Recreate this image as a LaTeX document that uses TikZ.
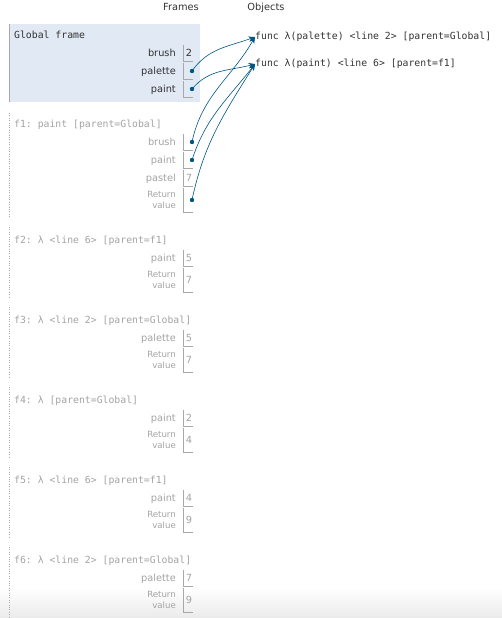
\documentclass[tikz,border=0pt]{standalone}
\usepackage{fontspec}
\setsansfont{DejaVu Sans}
\setmonofont{DejaVu Sans Mono}
\usetikzlibrary{arrows.meta,positioning}

\definecolor{ptblue}{HTML}{005583}
\definecolor{framebg}{HTML}{E1E9F4}
\definecolor{ghost}{HTML}{A3A3A3}
\definecolor{boxline}{HTML}{A8A8A8}
\definecolor{ink}{HTML}{333333}

\tikzset{
	head/.style={anchor=base, yshift=-3.5pt, inner sep=0, text=ink, font=\sffamily\fontsize{9.8}{11}\selectfont},
	ftitle/.style={anchor=base west, yshift=-3pt, inner sep=0, font=\ttfamily\fontsize{9.8}{11}\selectfont},
	varname/.style={anchor=base east, yshift=-3.6pt, inner sep=0, font=\sffamily\fontsize{9.8}{11}\selectfont},
	retname/.style={anchor=east, inner sep=0, align=right, font=\sffamily\fontsize{8.6}{11.5}\selectfont},
	val/.style={anchor=base, yshift=-3.6pt, inner sep=0, font=\sffamily\fontsize{9.8}{11}\selectfont},
	pointer/.style={circle, fill=ptblue, inner sep=0, minimum size=4.4pt},
	ref/.style={ptblue, line width=0.6pt, -{Stealth[length=6.5pt,width=5.5pt]}},
}

\begin{document}
\begin{tikzpicture}[x=1pt,y=-1pt]
	\useasboundingbox (0,0) rectangle (502,618);
	\shade[top color=white, bottom color=black!8] (0,588) rectangle (502,618);

	\node[head] (frames) at (181,7) {Frames};
	\node[head] (objects) at (266,7) {Objects};

	% heap objects
	\node[ftitle, text=ink, anchor=west, yshift=0pt] (fn1) at (255,34) {func λ(palette) <line 2> [parent=Global]};
	\node[ftitle, text=ink, anchor=west, yshift=0pt] (fn2) at (255,61) {func λ(paint) <line 6> [parent=f1]};

	% global frame
	\begin{scope}[shift={(0,35)}]
		\fill[framebg] (9,-11) rectangle (200,67);
		\draw[boxline, line width=1pt] (9,-11) -- (9,67);
		\node[ftitle, text=ink] (g-title) at (14,0) {Global frame};

		\node[varname, text=ink] (g-brush) at (176,18) {brush};
		\draw[boxline] (183,10) -- (183,26) -- (193,26);
		\node[val, text=ink] (g-brush-v) at (189,18) {2};

		\node[varname, text=ink] (g-palette) at (176,36) {palette};
		\draw[boxline] (183,28) -- (183,44) -- (193,44);
		\node[pointer] (g-palette-p) at (192,36) {};

		\node[varname, text=ink] (g-paint) at (176,54) {paint};
		\draw[boxline] (183,46) -- (183,62) -- (193,62);
		\node[pointer] (g-paint-p) at (192,54) {};
	\end{scope}

	% f1
	\begin{scope}[shift={(0,124)}, text=ghost]
		\draw[boxline, dotted] (9,-11) -- (9,94);
		\node[ftitle] (f1-title) at (14,0) {f1: paint [parent=Global]};

		\node[varname] (f1-brush) at (176,18) {brush};
		\draw[boxline] (183,10) -- (183,26) -- (193,26);
		\node[pointer] (f1-brush-p) at (192,18) {};

		\node[varname] (f1-paint) at (176,36) {paint};
		\draw[boxline] (183,28) -- (183,44) -- (193,44);
		\node[pointer] (f1-paint-p) at (192,36) {};

		\node[varname] (f1-pastel) at (176,54) {pastel};
		\draw[boxline] (183,46) -- (183,62) -- (193,62);
		\node[val] (f1-pastel-v) at (189,54) {7};

		\node[retname] (f1-ret) at (176,76) {Return\\value};
		\draw[boxline] (183,64) -- (183,88) -- (193,88);
		\node[pointer] (f1-ret-p) at (192,76) {};
	\end{scope}

	% f2
	\begin{scope}[shift={(0,240)}, text=ghost]
		\draw[boxline, dotted] (9,-13) -- (9,57);
		\node[ftitle] (f2-title) at (14,0) {f2: λ <line 6> [parent=f1]};
		\node[varname] (f2-paint) at (176,18) {paint};
		\draw[boxline] (183,10) -- (183,26) -- (193,26);
		\node[val] (f2-paint-v) at (189,18) {5};
		\node[retname] (f2-ret) at (176,40) {Return\\value};
		\draw[boxline] (183,28) -- (183,52) -- (193,52);
		\node[val] (f2-ret-v) at (189,40) {7};
	\end{scope}

	% f3
	\begin{scope}[shift={(0,320)}, text=ghost]
		\draw[boxline, dotted] (9,-13) -- (9,57);
		\node[ftitle] (f3-title) at (14,0) {f3: λ <line 2> [parent=Global]};
		\node[varname] (f3-palette) at (176,18) {palette};
		\draw[boxline] (183,10) -- (183,26) -- (193,26);
		\node[val] (f3-palette-v) at (189,18) {5};
		\node[retname] (f3-ret) at (176,40) {Return\\value};
		\draw[boxline] (183,28) -- (183,52) -- (193,52);
		\node[val] (f3-ret-v) at (189,40) {7};
	\end{scope}

	% f4
	\begin{scope}[shift={(0,400)}, text=ghost]
		\draw[boxline, dotted] (9,-13) -- (9,57);
		\node[ftitle] (f4-title) at (14,0) {f4: λ [parent=Global]};
		\node[varname] (f4-paint) at (176,18) {paint};
		\draw[boxline] (183,10) -- (183,26) -- (193,26);
		\node[val] (f4-paint-v) at (189,18) {2};
		\node[retname] (f4-ret) at (176,40) {Return\\value};
		\draw[boxline] (183,28) -- (183,52) -- (193,52);
		\node[val] (f4-ret-v) at (189,40) {4};
	\end{scope}

	% f5
	\begin{scope}[shift={(0,480)}, text=ghost]
		\draw[boxline, dotted] (9,-13) -- (9,57);
		\node[ftitle] (f5-title) at (14,0) {f5: λ <line 6> [parent=f1]};
		\node[varname] (f5-paint) at (176,18) {paint};
		\draw[boxline] (183,10) -- (183,26) -- (193,26);
		\node[val] (f5-paint-v) at (189,18) {4};
		\node[retname] (f5-ret) at (176,40) {Return\\value};
		\draw[boxline] (183,28) -- (183,52) -- (193,52);
		\node[val] (f5-ret-v) at (189,40) {9};
	\end{scope}

	% f6
	\begin{scope}[shift={(0,560)}, text=ghost]
		\draw[boxline, dotted] (9,-13) -- (9,57);
		\node[ftitle] (f6-title) at (14,0) {f6: λ <line 2> [parent=Global]};
		\node[varname] (f6-palette) at (176,18) {palette};
		\draw[boxline] (183,10) -- (183,26) -- (193,26);
		\node[val] (f6-palette-v) at (189,18) {7};
		\node[retname] (f6-ret) at (176,40) {Return\\value};
		\draw[boxline] (183,28) -- (183,52) -- (193,52);
		\node[val] (f6-ret-v) at (189,40) {9};
	\end{scope}

	% pointers
	\draw[ref] (g-palette-p.center) to[out=55,in=200] (fn1.west);
	\draw[ref] (g-paint-p.center) to[out=50,in=195] (fn2.west);
	\draw[ref] (f1-brush-p.center) to[out=78,in=240] (fn1.west);
	\draw[ref] (f1-paint-p.center) to[out=72,in=232] (fn2.west);
	\draw[ref] (f1-ret-p.center) to[out=78,in=238] (fn2.west);
\end{tikzpicture}
\end{document}
